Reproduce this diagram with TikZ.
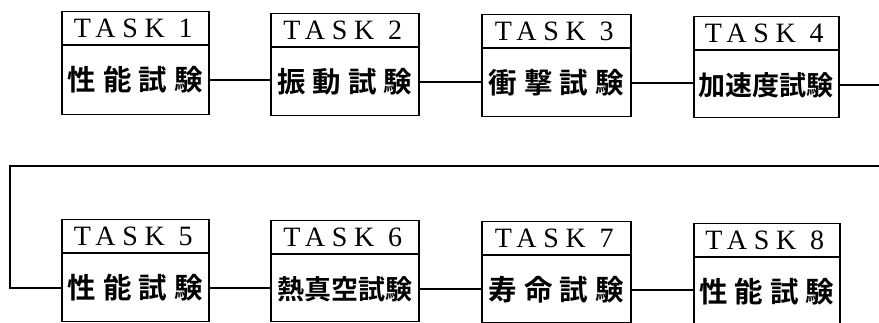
\documentclass[tikz,border=0pt]{standalone}
\usepackage{fontspec}
\setmainfont{Liberation Serif}
\newfontfamily\taskfont{Liberation Serif}[LetterSpace=24]
\newfontfamily\jp{Noto Sans CJK JP Bold}
\newcommand\mytask[7]{%
  \node[box,minimum width=#4pt,minimum height=#5pt] (#1) at (#2,#3) {};
  \draw[sepline] ([yshift=-34pt]#1.north west) -- ([yshift=-34pt]#1.north east);
  \node[hdr] (#1h) at ([yshift=-17.5pt,xshift=-2pt]#1.north) {TASK #6};
  \node[body] (#1b) at ([yshift=-69pt]#1.north) {#7};
}
\newcommand\gp{\hspace{7pt}}
\newcommand\five{\fontsize{27}{27}\selectfont}
\begin{document}
\begin{tikzpicture}[x=1pt,y=-1pt,
  box/.style={draw,line width=1.5pt,rectangle,inner sep=0pt,anchor=north west},
  sepline/.style={line width=1.2pt},
  hdr/.style={inner sep=0pt,font=\taskfont\fontsize{28}{28}\selectfont},
  body/.style={inner sep=0pt,font=\jp\fontsize{28.5}{28.5}\selectfont},
  conn/.style={line width=1.2pt}]
\useasboundingbox (0,0) rectangle (879,323);
\mytask{b1}{61}{11}{147}{103}{1}{性\gp 能\gp 試\gp 験}
\mytask{b2}{270}{13}{148}{102}{2}{振\gp 動\gp 試\gp 験}
\mytask{b3}{481}{14}{149}{102}{3}{衝\gp 撃\gp 試\gp 験}
\mytask{b4}{693}{16}{145}{101}{4}{\five 加速度試験}
\mytask{b5}{61}{219}{147}{102}{5}{性\gp 能\gp 試\gp 験}
\mytask{b6}{270}{220}{148}{101}{6}{\five 熱真空試験}
\mytask{b7}{481}{221}{149}{101}{7}{寿\gp 命\gp 試\gp 験}
\mytask{b8}{693}{223}{146}{101}{8}{性\gp 能\gp 試\gp 験}
\coordinate (r1) at (879,85);
\coordinate (r2) at (879,166);
\coordinate (l2) at (10,166);
\draw[conn] (b1.east |- b1b) -- (b2.west |- b1b);
\draw[conn] (b2.east |- b2b) -- (b3.west |- b2b);
\draw[conn] (b3.east |- b3b) -- (b4.west |- b3b);
\draw[conn] (b4.east |- b4b) -- (r1 |- b4b);
\draw[conn] (r2) -- (l2) |- (b5.west |- b5b);
\draw[conn] (b5.east |- b5b) -- (b6.west |- b5b);
\draw[conn] (b6.east |- b6b) -- (b7.west |- b6b);
\draw[conn] (b7.east |- b7b) -- (b8.west |- b7b);
\end{tikzpicture}
\end{document}
